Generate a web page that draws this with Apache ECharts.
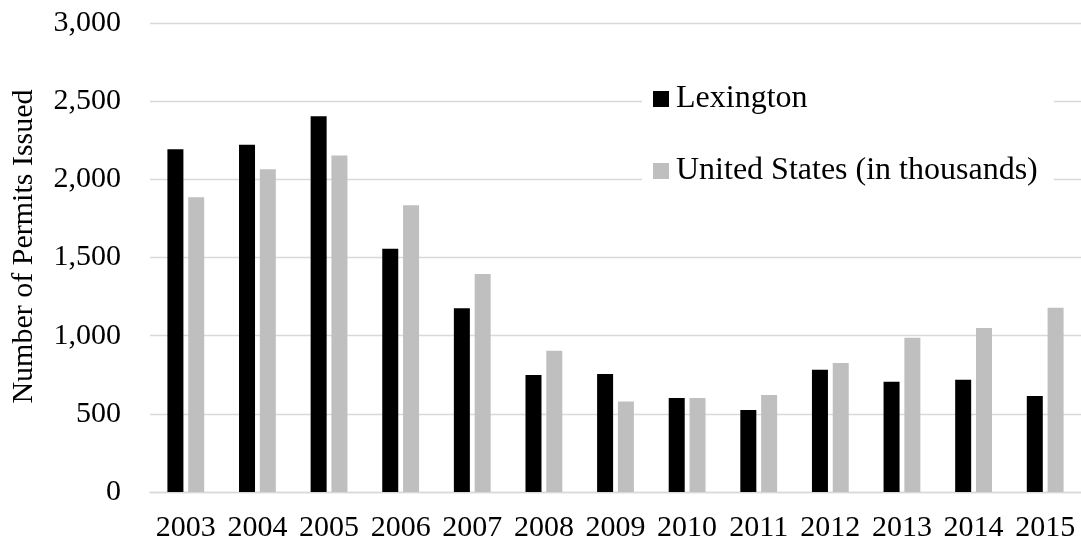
<!DOCTYPE html>
<html>
<head>
<meta charset="utf-8">
<script src="https://cdn.jsdelivr.net/npm/echarts@6/dist/echarts.min.js"></script>
<style>
  html, body { margin: 0; padding: 0; background: #ffffff; }
  #chart { width: 1081px; height: 544px; }
</style>
</head>
<body>
<div id="chart"></div>
<script>
// Residential building permits issued per year
const years = ['2003', '2004', '2005', '2006', '2007', '2008', '2009', '2010', '2011', '2012', '2013', '2014', '2015'];
const lexington = [2193, 2221, 2404, 1556, 1176, 748, 754, 601, 524, 782, 705, 718, 614];
const unitedStates = [1886, 2065, 2152, 1835, 1394, 903, 579, 601, 620, 825, 987, 1049, 1178];
const seriesNames = ['Lexington', 'United States (in thousands)'];
const yTicks = { min: 0, max: 3000, step: 500 };

const serif = "'Liberation Serif', 'Times New Roman', serif";
const chart = echarts.init(document.getElementById('chart'), null, { renderer: 'canvas' });

chart.setOption({
  animation: false,
  backgroundColor: '#ffffff',
  textStyle: { fontFamily: serif, color: '#000000' },
  grid: { left: 150, top: 23, width: 940, height: 469, containLabel: false },
  legend: {
    orient: 'vertical',
    left: 642,
    top: 70,
    backgroundColor: '#ffffff',
    padding: [11, 16, 11, 11],
    itemGap: 36,
    itemWidth: 16,
    itemHeight: 16,
    icon: 'rect',
    textStyle: { fontFamily: serif, fontSize: 32, color: '#000000', lineHeight: 36, padding: [0, 0, 0, 2] },
    data: seriesNames
  },
  xAxis: {
    type: 'category',
    data: years,
    axisLine: { show: true, lineStyle: { color: '#d9d9d9', width: 1.3 } },
    axisTick: { show: false },
    axisLabel: { fontFamily: serif, fontSize: 30, color: '#000000', margin: 21, interval: 0 }
  },
  yAxis: {
    type: 'value',
    min: yTicks.min,
    max: yTicks.max,
    interval: yTicks.step,
    name: 'Number of Permits Issued',
    nameLocation: 'middle',
    nameRotate: 90,
    nameGap: 111,
    nameTextStyle: { fontFamily: serif, fontSize: 30, color: '#000000', padding: [0, 0, 0, 22] },
    axisLine: { show: false },
    axisTick: { show: false },
    splitLine: { lineStyle: { color: '#d9d9d9', width: 1.3 } },
    axisLabel: {
      fontFamily: serif, fontSize: 30, color: '#000000', margin: 29,
      formatter: v => v.toLocaleString('en-US')
    }
  },
  series: [
    {
      name: seriesNames[0],
      type: 'bar',
      data: lexington,
      barWidth: 16,
      barGap: '30%',
      itemStyle: { color: '#000000' }
    },
    {
      name: seriesNames[1],
      type: 'bar',
      data: unitedStates,
      barWidth: 16,
      barGap: '30%',
      itemStyle: { color: '#bfbfbf' }
    }
  ]
});
</script>
</body>
</html>
